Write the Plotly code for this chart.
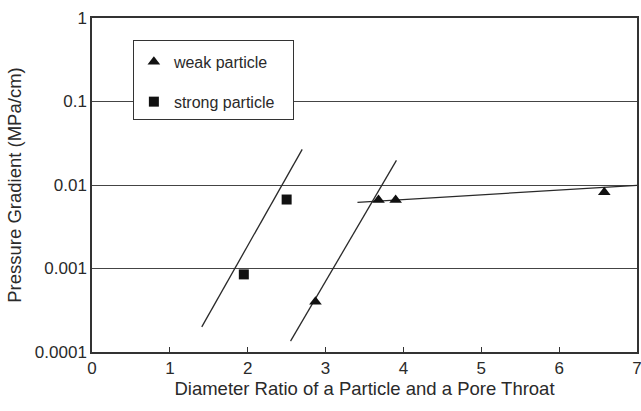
import plotly.graph_objects as go

# Data
weak_x = [2.87, 3.68, 3.90, 6.58]
weak_y = [0.0004, 0.0066, 0.0066, 0.0082]
strong_x = [1.95, 2.50]
strong_y = [0.00085, 0.0067]

strong_fit_x = [1.41, 2.70]
strong_fit_y = [0.0002, 0.0267]
weak_fit_x = [2.55, 3.91]
weak_fit_y = [0.000135, 0.0197]
weak_trend_x = [3.41, 7.0]
weak_trend_y = [0.0062, 0.0099]

y_tickvals = [0.0001, 0.001, 0.01, 0.1, 1]
y_ticktext = ["0.0001", "0.001", "0.01", "0.1", "1"]

FONT = "Liberation Sans, Arial, sans-serif"
INK = "#2a2a2a"
PAD = "\u00a0\u00a0\u00a0"

fig = go.Figure()
line_style = dict(color=INK, width=1.3)
for xs, ys in [(strong_fit_x, strong_fit_y), (weak_fit_x, weak_fit_y), (weak_trend_x, weak_trend_y)]:
    fig.add_trace(go.Scatter(x=xs, y=ys, mode="lines", line=line_style,
                             showlegend=False, hoverinfo="skip"))

fig.add_trace(go.Scatter(x=weak_x, y=weak_y, mode="markers", name="weak particle" + PAD,
                         legendgroup="a",
                         marker=dict(symbol="triangle-up", size=11, color="#111")))
fig.add_trace(go.Scatter(x=strong_x, y=strong_y, mode="markers", name="strong particle" + PAD,
                         legendgroup="b",
                         marker=dict(symbol="square", size=10, color="#111")))

fig.update_layout(
    width=641, height=411,
    margin=dict(l=92, r=4, t=18, b=59, autoexpand=False),
    paper_bgcolor="white", plot_bgcolor="white",
    font=dict(family=FONT, size=16, color=INK),
    legend=dict(x=0.075, y=0.934, xanchor="left", yanchor="top",
                bgcolor="white", bordercolor="#333", borderwidth=1,
                tracegroupgap=16, font=dict(size=16, color=INK),
                title=dict(text=" ", font=dict(size=3))),
    xaxis=dict(range=[0, 7], dtick=1, tick0=0, showgrid=False, zeroline=False,
               showline=True, linecolor="#333", linewidth=1.5, mirror=True,
               ticks="inside", ticklen=5, tickcolor="#333", automargin=False,
               ticklabeloverflow="allow",
               tickfont=dict(size=17, color=INK),
               title=dict(text="Diameter Ratio of a Particle and a Pore Throat",
                          font=dict(size=18.5, color=INK), standoff=0)),
    yaxis=dict(type="log", range=[-4, 0], tickvals=y_tickvals, ticktext=y_ticktext,
               showgrid=True, gridcolor="#444", gridwidth=1.3, zeroline=False,
               showline=True, linecolor="#333", linewidth=1.5, mirror=True,
               ticks="", automargin=False, tickfont=dict(size=17, color=INK),
               title=dict(text="Pressure Gradient (MPa/cm)",
                          font=dict(size=18.5, color=INK), standoff=8)),
)

fig.write_html("out.html", config={"displayModeBar": False},
               post_script="document.body.style.margin='0';")
